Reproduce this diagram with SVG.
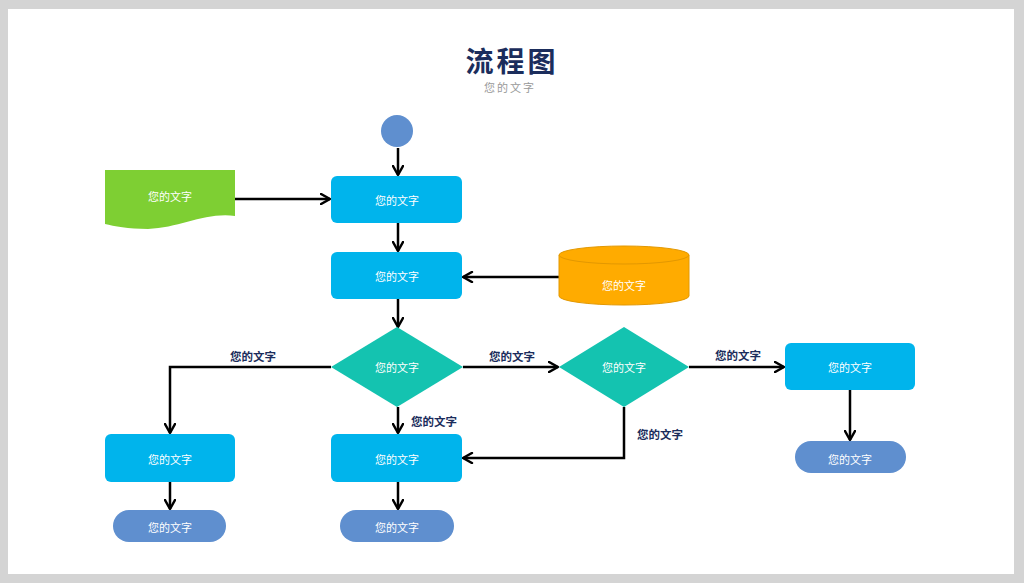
<svg xmlns="http://www.w3.org/2000/svg" width="1024" height="583" viewBox="0 0 1024 583">
<defs>
<marker id="arr" markerUnits="userSpaceOnUse" viewBox="0 0 12 12" refX="10.5" refY="6" markerWidth="12" markerHeight="12" orient="auto">
<path d="M1.5,1 L10.5,6 L1.5,11" fill="none" stroke="#000" stroke-width="2.5" stroke-linecap="round" stroke-linejoin="round"/>
</marker>
<style>
.box{fill:#00b4ec}
.oval{fill:#5f8fcf}
.dia{fill:#14c3b0}
.nt{font-family:"Noto Sans CJK SC","Noto Sans",sans-serif;font-size:11px;fill:#fff;text-anchor:middle;dominant-baseline:central}
.lb{font-family:"Noto Sans CJK SC","Noto Sans",sans-serif;font-size:11.5px;font-weight:bold;fill:#1b2d5c;text-anchor:middle;dominant-baseline:central}
.ln{fill:none;stroke:#000;stroke-width:2.5}
</style>
</defs>
<rect x="0" y="0" width="1024" height="583" fill="#d4d4d4"/>
<rect x="8" y="9" width="1006" height="565" fill="#fff"/>
<g id="title">
<text x="512" y="60" font-family="'Noto Sans CJK SC',sans-serif" font-size="28" font-weight="bold" fill="#1b2d5c" text-anchor="middle" dominant-baseline="central" letter-spacing="3">流程图</text>
<text x="510" y="87" font-family="'Noto Sans CJK SC',sans-serif" font-size="11" fill="#999" text-anchor="middle" dominant-baseline="central" letter-spacing="2">您的文字</text>
</g>
<g id="connectors">
<line class="ln" x1="398" y1="148" x2="398" y2="175" marker-end="url(#arr)"/>
<line class="ln" x1="235" y1="199" x2="330" y2="199" marker-end="url(#arr)"/>
<line class="ln" x1="398" y1="223" x2="398" y2="251" marker-end="url(#arr)"/>
<line class="ln" x1="559" y1="277" x2="463" y2="277" marker-end="url(#arr)"/>
<line class="ln" x1="398" y1="299" x2="398" y2="327" marker-end="url(#arr)"/>
<polyline class="ln" points="331,367 170,367 170,433" marker-end="url(#arr)"/>
<line class="ln" x1="463" y1="367" x2="558" y2="367" marker-end="url(#arr)"/>
<line class="ln" x1="689" y1="367" x2="784" y2="367" marker-end="url(#arr)"/>
<line class="ln" x1="850" y1="390" x2="850" y2="440" marker-end="url(#arr)"/>
<line class="ln" x1="398" y1="407" x2="398" y2="433" marker-end="url(#arr)"/>
<polyline class="ln" points="624,407 624,458 463,458" marker-end="url(#arr)"/>
<line class="ln" x1="170" y1="482" x2="170" y2="509" marker-end="url(#arr)"/>
<line class="ln" x1="398" y1="482" x2="398" y2="509" marker-end="url(#arr)"/>
<text class="lb" x="253" y="356">您的文字</text>
<text class="lb" x="512" y="356">您的文字</text>
<text class="lb" x="738" y="355">您的文字</text>
<text class="lb" x="434" y="421">您的文字</text>
<text class="lb" x="660" y="434">您的文字</text>
</g>
<g id="start"><circle cx="397" cy="131" r="16" fill="#5f8fcf"/></g>
<g id="doc">
<path d="M105,170 H235 V216 C205,212 180,228 148,229 C128,229 114,226 105,224 Z" fill="#7ecf33"/>
<text class="nt" x="170" y="196">您的文字</text>
</g>
<g id="box1"><rect class="box" x="331" y="176" width="131" height="47" rx="6"/><text class="nt" x="397" y="200">您的文字</text></g>
<g id="box2"><rect class="box" x="331" y="252" width="131" height="47" rx="6"/><text class="nt" x="397" y="276">您的文字</text></g>
<g id="db">
<path d="M559,255 V296 A65,9 0 0 0 689,296 V255 Z" fill="#ffab00" stroke="#e39800" stroke-width="1"/>
<ellipse cx="624" cy="255" rx="65" ry="9" fill="#ffab00" stroke="#e39800" stroke-width="1"/>
<text class="nt" x="624" y="285">您的文字</text>
</g>
<g id="dia1"><polygon class="dia" points="397,327 463,367 397,407 331,367"/><text class="nt" x="397" y="367">您的文字</text></g>
<g id="dia2"><polygon class="dia" points="624,327 689,367 624,407 559,367"/><text class="nt" x="624" y="367">您的文字</text></g>
<g id="box5"><rect class="box" x="785" y="343" width="130" height="47" rx="6"/><text class="nt" x="850" y="367">您的文字</text></g>
<g id="end3"><rect class="oval" x="795" y="441" width="111" height="32" rx="16"/><text class="nt" x="850" y="459">您的文字</text></g>
<g id="box3"><rect class="box" x="105" y="434" width="130" height="48" rx="6"/><text class="nt" x="170" y="459">您的文字</text></g>
<g id="box4"><rect class="box" x="331" y="434" width="131" height="48" rx="6"/><text class="nt" x="397" y="459">您的文字</text></g>
<g id="end1"><rect class="oval" x="113" y="510" width="113" height="32" rx="16"/><text class="nt" x="170" y="527">您的文字</text></g>
<g id="end2"><rect class="oval" x="340" y="510" width="114" height="32" rx="16"/><text class="nt" x="397" y="527">您的文字</text></g>
</svg>
